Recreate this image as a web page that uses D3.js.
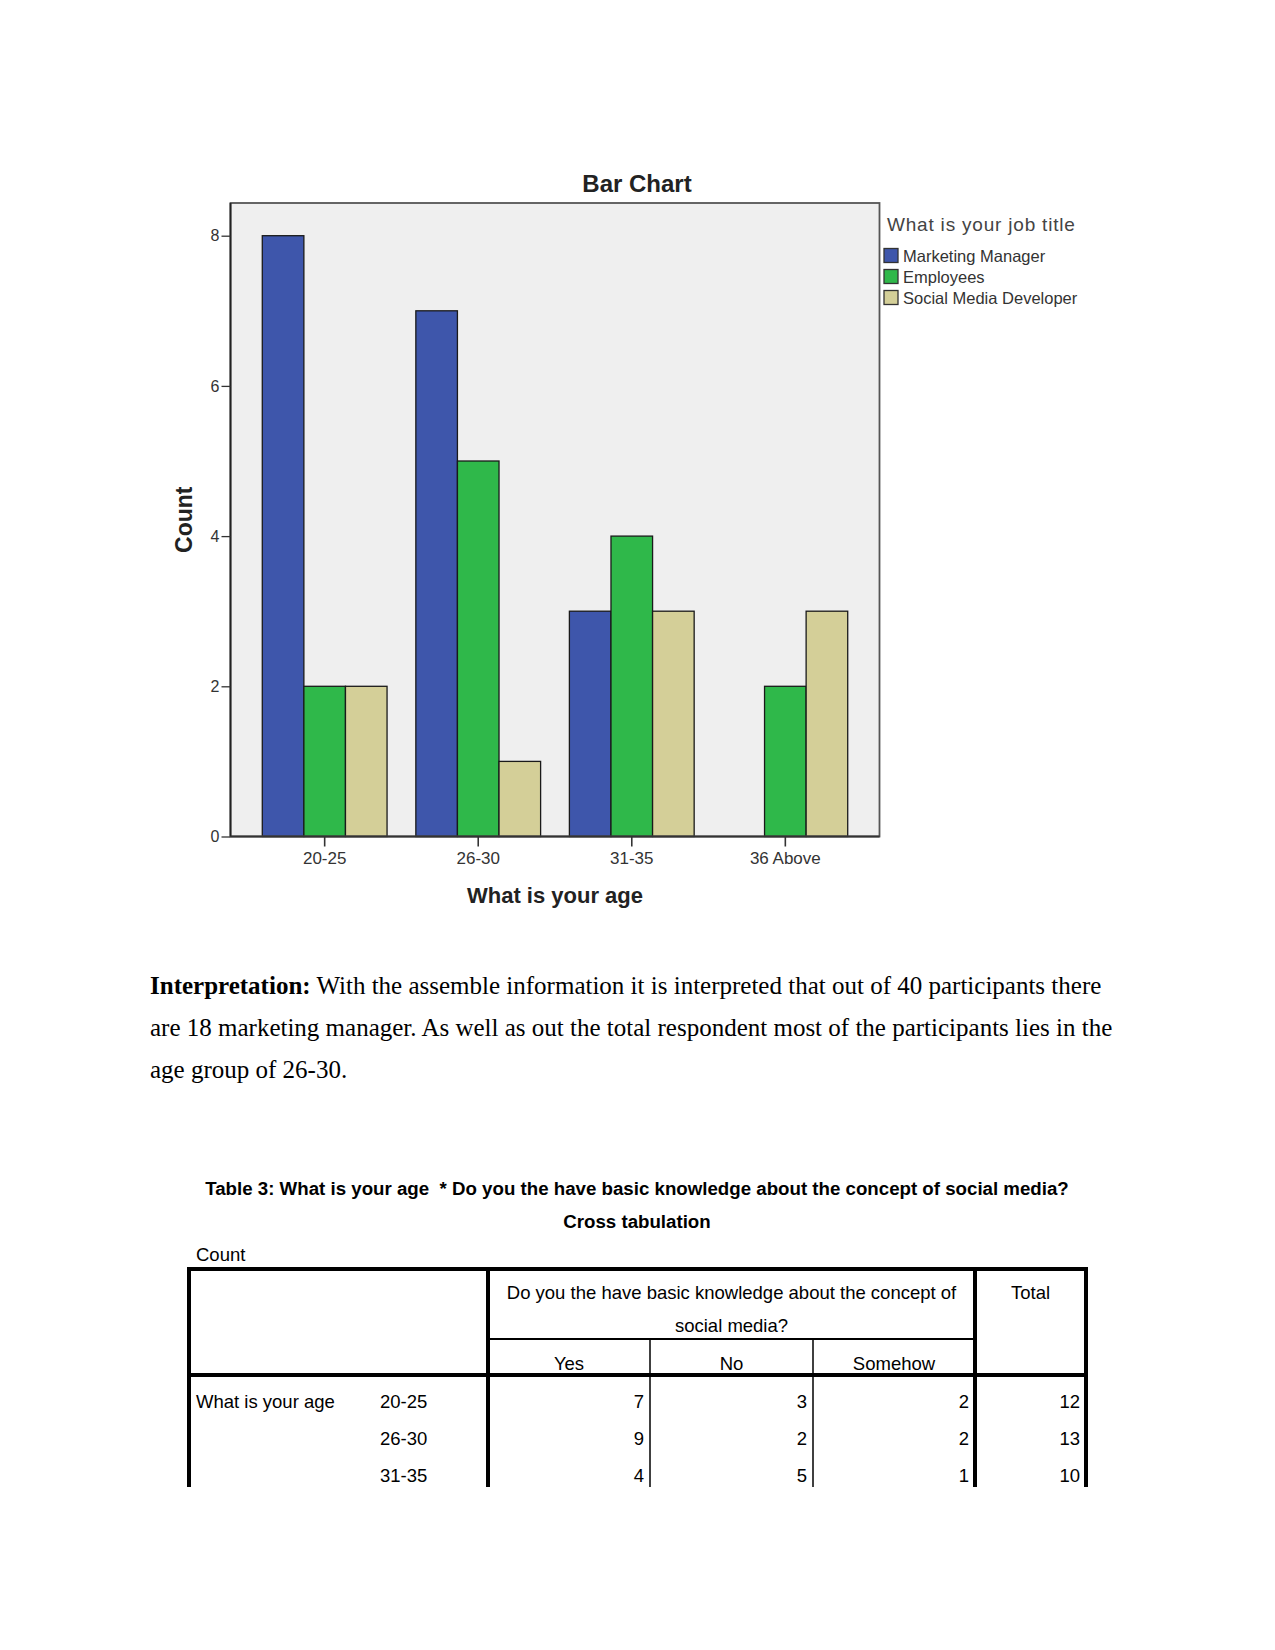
<!DOCTYPE html>
<html>
<head>
<meta charset="utf-8">
<script src="https://cdn.jsdelivr.net/npm/d3@7"></script>
<style>
  html, body { margin: 0; padding: 0; background: #fff; }
  svg { display: block; }
</style>
</head>
<body>
<svg id="page" width="1275" height="1650"></svg>
<script>
// ---------------- DATA ----------------
const categories = ["20-25", "26-30", "31-35", "36 Above"];
const seriesNames = ["Marketing Manager", "Employees", "Social Media Developer"];
const marketingManager = [8, 7, 3, 0];
const employees = [2, 5, 4, 2];
const socialMediaDeveloper = [2, 1, 3, 3];
const yTicks = [0, 2, 4, 6, 8];
const seriesColors = ["#3e56ab", "#2fb84a", "#d4cf98"];

const paragraphLines = [
  [{t: "Interpretation:", b: true}, {t: " With the assemble information it is interpreted that out of 40 participants there", b: false}],
  [{t: "are 18 marketing manager. As well as out the total respondent most of the participants lies in the", b: false}],
  [{t: "age group of 26-30.", b: false}]
];

const tableTitle1 = "Table 3: What is your age  * Do you the have basic knowledge about the concept of social media?";
const tableTitle2 = "Cross tabulation";
const tableColGroup = ["Do you the have basic knowledge about the concept of", "social media?"];
const tableCols = ["Yes", "No", "Somehow"];
const tableRowVar = "What is your age";
const tableRows = ["20-25", "26-30", "31-35"];
const tableYes = [7, 9, 4];
const tableNo = [3, 2, 5];
const tableSomehow = [2, 2, 1];
const tableTotal = [12, 13, 10];

// ---------------- CHART ----------------
const svg = d3.select("#page");
svg.append("rect").attr("width", 1275).attr("height", 1650).attr("fill", "#fff");

const sans = "'Liberation Sans', Arial, sans-serif";
const frame = {left: 230.5, right: 879.5, top: 203, bottom: 836.5};

const x0 = d3.scaleBand().domain(categories)
  .range([frame.left, frame.right]).paddingInner(0.1875).paddingOuter(0.207);
const x1 = d3.scaleBand().domain(seriesNames).range([0, x0.bandwidth()]).padding(0);
const y = d3.scaleLinear().domain([0, 8]).range([frame.bottom, 235.7]);

const seriesData = [marketingManager, employees, socialMediaDeveloper];
const color = d3.scaleOrdinal().domain(seriesNames).range(seriesColors);

// plot background
svg.append("rect")
  .attr("x", frame.left).attr("y", frame.top)
  .attr("width", frame.right - frame.left).attr("height", frame.bottom - frame.top)
  .attr("fill", "#efefef");

// bars
const barData = [];
categories.forEach((c, i) => {
  seriesNames.forEach((s, j) => {
    barData.push({cat: c, series: s, value: seriesData[j][i]});
  });
});
svg.append("g").selectAll("rect")
  .data(barData.filter(d => d.value > 0))
  .join("rect")
  .attr("x", d => x0(d.cat) + x1(d.series))
  .attr("y", d => y(d.value))
  .attr("width", x1.bandwidth())
  .attr("height", d => y(0) - y(d.value))
  .attr("fill", d => color(d.series))
  .attr("stroke", "#1a1a1a")
  .attr("stroke-width", 1.3);

// frame
svg.append("rect")
  .attr("x", frame.left).attr("y", frame.top)
  .attr("width", frame.right - frame.left).attr("height", frame.bottom - frame.top)
  .attr("fill", "none").attr("stroke", "#555").attr("stroke-width", 1.8);
svg.append("line")
  .attr("x1", frame.left).attr("x2", frame.left)
  .attr("y1", frame.top).attr("y2", frame.bottom)
  .attr("stroke", "#222").attr("stroke-width", 1.8);
svg.append("line")
  .attr("x1", frame.left).attr("x2", frame.right)
  .attr("y1", frame.bottom).attr("y2", frame.bottom)
  .attr("stroke", "#333").attr("stroke-width", 1.8);

// y axis
const yAxis = d3.axisLeft(y).tickValues(yTicks).tickSize(9).tickPadding(2).tickFormat(d3.format("d"));
const gy = svg.append("g").attr("transform", `translate(${frame.left},0)`).call(yAxis);
gy.select(".domain").remove();
gy.selectAll(".tick line").attr("stroke", "#333").attr("stroke-width", 1.3);
gy.selectAll(".tick text").attr("font-family", sans).attr("font-size", 16).attr("fill", "#333");

// x axis
const xAxis = d3.axisBottom(x0).tickSize(10).tickPadding(5);
const gx = svg.append("g").attr("transform", `translate(0,${frame.bottom})`).call(xAxis);
gx.select(".domain").remove();
gx.selectAll(".tick line").attr("stroke", "#333").attr("stroke-width", 1.6);
gx.selectAll(".tick text").attr("font-family", sans).attr("font-size", 17).attr("fill", "#333");

// titles
svg.append("text").attr("x", 637).attr("y", 192)
  .attr("text-anchor", "middle").attr("font-family", sans)
  .attr("font-size", 24).attr("font-weight", "bold").attr("fill", "#222")
  .text("Bar Chart");
svg.append("text").attr("x", (frame.left + frame.right) / 2).attr("y", 903)
  .attr("text-anchor", "middle").attr("font-family", sans)
  .attr("font-size", 22).attr("font-weight", "bold").attr("fill", "#222")
  .text("What is your age");
svg.append("text")
  .attr("transform", `translate(192,${(frame.top + frame.bottom) / 2}) rotate(-90)`)
  .attr("text-anchor", "middle").attr("font-family", sans)
  .attr("font-size", 23).attr("font-weight", "bold").attr("fill", "#222")
  .text("Count");

// legend
const lg = svg.append("g");
lg.append("text").attr("x", 887).attr("y", 231)
  .attr("font-family", sans).attr("font-size", 19).attr("fill", "#444")
  .attr("letter-spacing", 0.8)
  .text("What is your job title");
const legY = d3.scalePoint().domain(seriesNames).range([255.5, 297.5]);
lg.selectAll("rect").data(seriesNames).join("rect")
  .attr("x", 884).attr("y", d => legY(d) - 7)
  .attr("width", 14).attr("height", 14)
  .attr("fill", d => color(d)).attr("stroke", "#333").attr("stroke-width", 1.3);
lg.selectAll("text.item").data(seriesNames).join("text").attr("class", "item")
  .attr("x", 903).attr("y", d => legY(d) + 6)
  .attr("font-family", sans).attr("font-size", 16.5).attr("fill", "#333")
  .text(d => d);

// ---------------- PARAGRAPH ----------------
const serif = "'Liberation Serif', 'Times New Roman', serif";
const para = svg.append("g");
paragraphLines.forEach((line, i) => {
  const t = para.append("text").attr("x", 150).attr("y", 994 + i * 42)
    .attr("font-family", serif).attr("font-size", 25).attr("fill", "#000")
    .attr("xml:space", "preserve");
  line.forEach(seg => {
    t.append("tspan").attr("font-weight", seg.b ? "bold" : "normal").text(seg.t);
  });
});

// ---------------- TABLE ----------------
const tg = svg.append("g").attr("font-family", sans).attr("fill", "#000");
tg.append("text").attr("x", 637).attr("y", 1195).attr("text-anchor", "middle")
  .attr("font-size", 18.7).attr("font-weight", "bold").attr("xml:space", "preserve").text(tableTitle1);
tg.append("text").attr("x", 637).attr("y", 1228).attr("text-anchor", "middle")
  .attr("font-size", 18.7).attr("font-weight", "bold").text(tableTitle2);
tg.append("text").attr("x", 196).attr("y", 1261).attr("font-size", 18.5).text("Count");

const T = {left: 189, right: 1086, top: 1269, headBottom: 1375, subLine: 1339, bottom: 1487};
const colEdges = [488, 650, 813, 975]; // vertical separators
const thick = 4, thin = 1.5;

function line(x1, y1, x2, y2, w) {
  tg.append("line").attr("x1", x1).attr("y1", y1).attr("x2", x2).attr("y2", y2)
    .attr("stroke", "#000").attr("stroke-width", w);
}
// outer top, left, right
line(T.left - thick / 2, T.top, T.right + thick / 2, T.top, thick);
line(T.left, T.top, T.left, T.bottom, thick);
line(T.right, T.top, T.right, T.bottom, thick);
// header bottom
line(T.left, T.headBottom, T.right, T.headBottom, thick);
// group col separators (thick)
line(colEdges[0], T.top, colEdges[0], T.bottom, thick);
line(colEdges[3], T.top, colEdges[3], T.bottom, thick);
// sub header line
line(colEdges[0], T.subLine, colEdges[3], T.subLine, thin + 0.5);
// thin separators
line(colEdges[1], T.subLine, colEdges[1], T.bottom, thin);
line(colEdges[2], T.subLine, colEdges[2], T.bottom, thin);

const fs = 18.5;
const groupCx = (colEdges[0] + colEdges[3]) / 2;
tableColGroup.forEach((s, i) => {
  tg.append("text").attr("x", groupCx).attr("y", 1299 + i * 33).attr("text-anchor", "middle")
    .attr("font-size", fs).text(s);
});
tg.append("text").attr("x", (colEdges[3] + T.right) / 2).attr("y", 1299).attr("text-anchor", "middle")
  .attr("font-size", fs).text("Total");
tableCols.forEach((c, i) => {
  tg.append("text").attr("x", (colEdges[i] + colEdges[i + 1]) / 2).attr("y", 1370)
    .attr("text-anchor", "middle").attr("font-size", fs).text(c);
});
const rowY = d3.scalePoint().domain(tableRows).range([1408, 1482]);
tg.append("text").attr("x", 196).attr("y", rowY(tableRows[0])).attr("font-size", fs).text(tableRowVar);
const rightEdges = [colEdges[1], colEdges[2], colEdges[3], T.right];
const cols = [tableYes, tableNo, tableSomehow, tableTotal];
tableRows.forEach((r, i) => {
  tg.append("text").attr("x", 380).attr("y", rowY(r)).attr("font-size", fs).text(r);
  cols.forEach((arr, j) => {
    tg.append("text").attr("x", rightEdges[j] - 6).attr("y", rowY(r))
      .attr("text-anchor", "end").attr("font-size", fs).text(arr[i]);
  });
});
</script>
</body>
</html>
